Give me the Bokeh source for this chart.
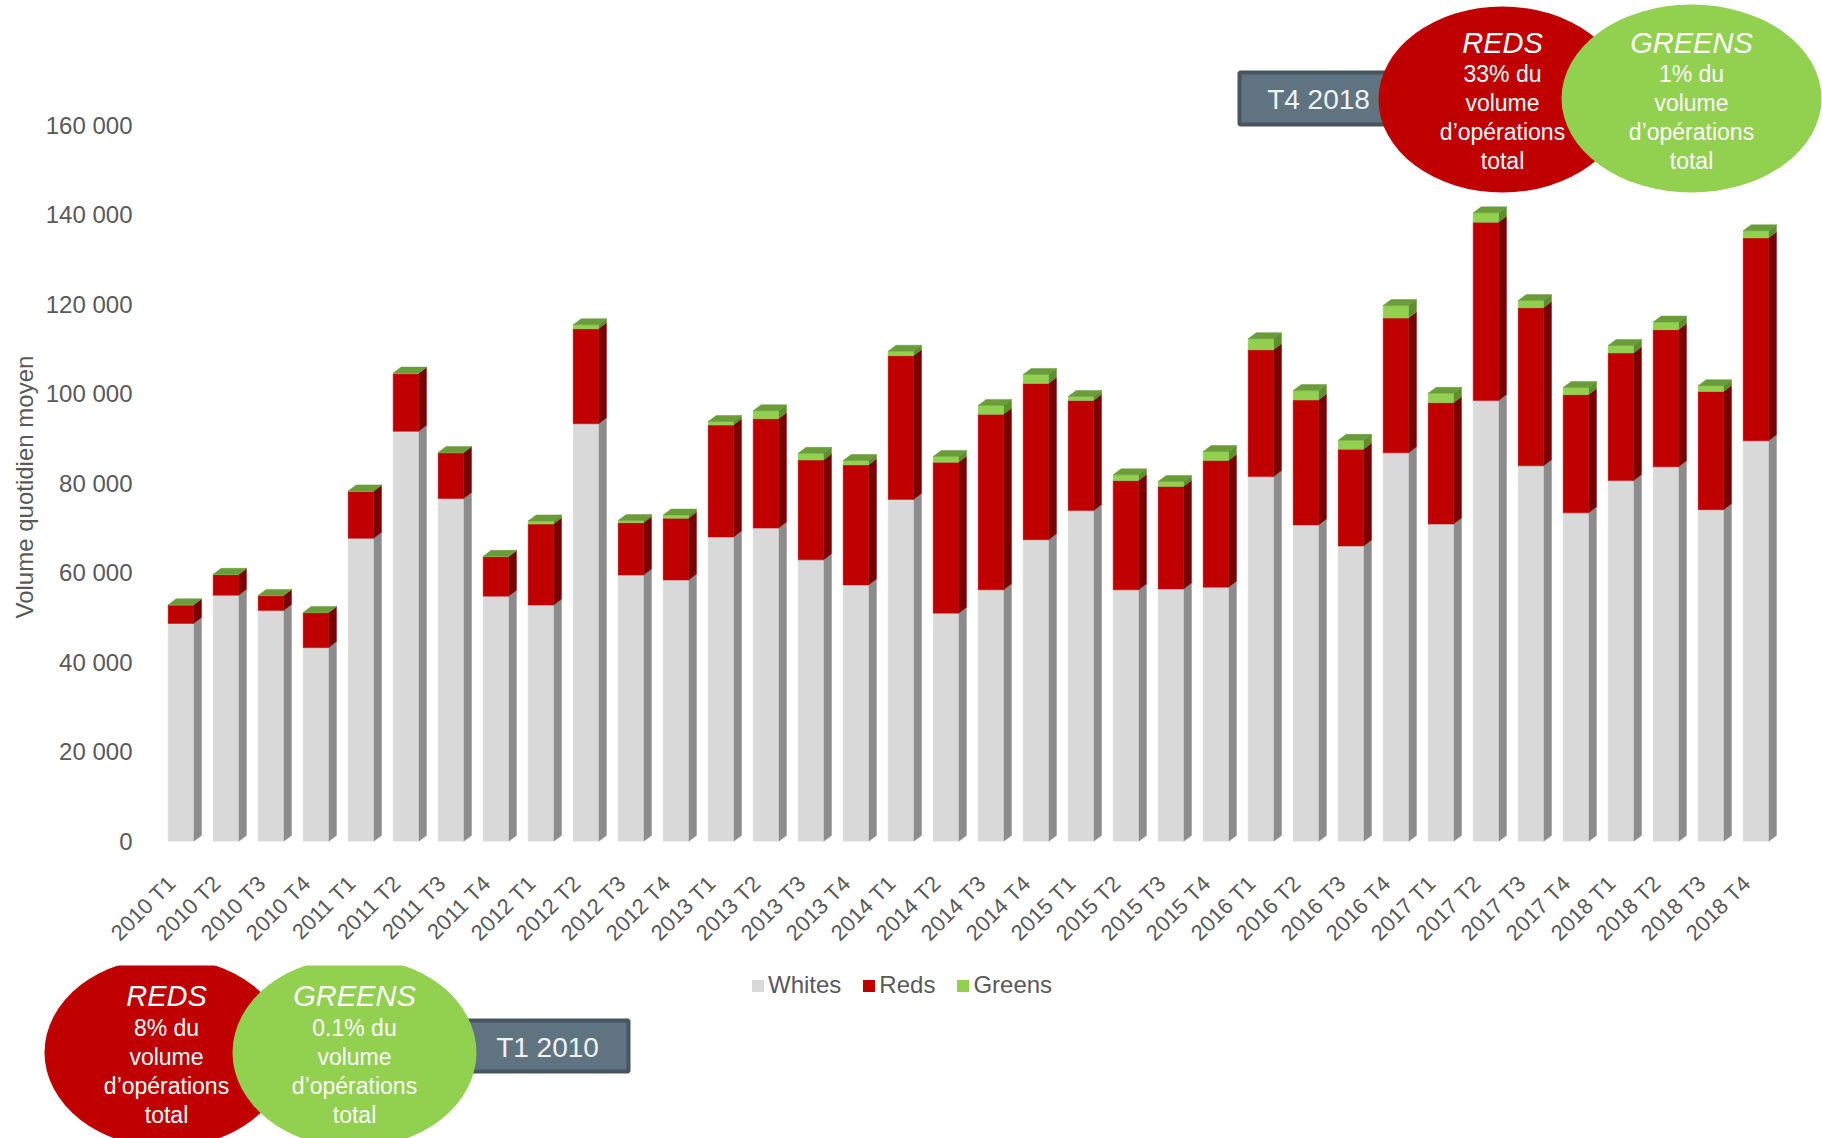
import numpy as np
from math import pi
from bokeh.plotting import figure
from bokeh.models import Range1d, FixedTicker, Title, Legend, LegendItem
from bokeh.layouts import column
from bokeh.embed import file_html
from bokeh.resources import INLINE
from bokeh.core.properties import value

# ---------------- data ----------------
categories = ["2010 T1", "2010 T2", "2010 T3", "2010 T4",
              "2011 T1", "2011 T2", "2011 T3", "2011 T4",
              "2012 T1", "2012 T2", "2012 T3", "2012 T4",
              "2013 T1", "2013 T2", "2013 T3", "2013 T4",
              "2014 T1", "2014 T2", "2014 T3", "2014 T4",
              "2015 T1", "2015 T2", "2015 T3", "2015 T4",
              "2016 T1", "2016 T2", "2016 T3", "2016 T4",
              "2017 T1", "2017 T2", "2017 T3", "2017 T4",
              "2018 T1", "2018 T2", "2018 T3", "2018 T4"]

whites = [48700, 55000, 51600, 43300, 67700, 91600, 76600, 54800,
          52800, 93300, 59500, 58400, 68000, 70000, 62900, 57300,
          76400, 51000, 56200, 67400, 73900, 56200, 56400, 56800,
          81500, 70700, 66000, 86800, 70900, 98500, 83900, 73400,
          80600, 83700, 74100, 89500]

reds = [4100, 4600, 3300, 7800, 10500, 12900, 10200, 8800,
        18100, 21200, 11700, 13800, 25000, 24400, 22300, 26800,
        32100, 33700, 39200, 34900, 24600, 24400, 22900, 28300,
        28300, 27900, 21600, 30100, 27100, 39800, 35300, 26400,
        28500, 30600, 26400, 45300]

greens = [60, 70, 60, 60, 100, 120, 100, 80,
          700, 900, 500, 700, 800, 1800, 1500, 1000,
          1000, 1300, 2000, 2000, 900, 1300, 1100, 2000,
          2500, 2100, 2000, 2800, 2100, 2100, 1600, 1600,
          1700, 1700, 1300, 1600]

series_names = ["Whites", "Reds", "Greens"]
y_ticks = [0, 20000, 40000, 60000, 80000, 100000, 120000, 140000, 160000]
y_tick_labels = ["0", "20 000", "40 000", "60 000", "80 000",
                 "100 000", "120 000", "140 000", "160 000"]
y_title = "Volume quotidien moyen"

top_period = "T4 2018"
top_reds_lines = ["REDS", "33% du", "volume", "d\u2019op\u00e9rations", "total"]
top_greens_lines = ["GREENS", "1% du", "volume", "d\u2019op\u00e9rations", "total"]
bottom_period = "T1 2010"
bottom_reds_lines = ["REDS", "8% du", "volume", "d\u2019op\u00e9rations", "total"]
bottom_greens_lines = ["GREENS", "0.1% du", "volume", "d\u2019op\u00e9rations", "total"]

# ---------------- style / layout ----------------
FONT = value("Liberation Sans")
TXT = "#595959"
WHITE_FRONT, WHITE_SIDE = "#d9d9d9", "#8c8c8c"
RED_FRONT, RED_SIDE = "#c00000", "#7a0000"
GREEN_FRONT, GREEN_SIDE, GREEN_TOP = "#92d050", "#5e8f2e", "#6b9c3a"
BOX_FILL, BOX_LINE = "#5f7480", "#46555f"

W = 1822
TOTAL_H = 1138
LEFT = 158
FRAME_H = 841                 # frame spans page y 0 .. 841
BOTTOM = 124
H1 = FRAME_H + BOTTOM
H2 = TOTAL_H - H1
PX_CAT = 45.0
PX_VAL = 0.0044775
XS = -0.4956
XE = XS + (W - LEFT) / PX_CAT
YE = FRAME_H / PX_VAL
LABEL_SHIFT = 0.2


def fx(page_x):
    return XS + (page_x - LEFT) / PX_CAT


def fy(page_y):
    return (FRAME_H - page_y) / PX_VAL


# ---------------- main figure ----------------
p = figure(width=W, height=H1, x_range=Range1d(XS, XE), y_range=Range1d(0, YE),
           output_backend="svg", toolbar_location=None,
           min_border_left=LEFT, min_border_right=0, min_border_top=0,
           min_border_bottom=BOTTOM)
p.frame_align = False
p.outline_line_color = None
p.grid.visible = False

x = np.arange(len(categories), dtype=float)
w = np.array(whites, dtype=float)
r = np.array(reds, dtype=float)
g = np.array(greens, dtype=float)
c1 = w
c2 = w + r
c3 = w + r + g

hw = 0.281
dx = 8 / PX_CAT
dy = 6 / PX_VAL

segments = [(np.zeros_like(w), c1, WHITE_FRONT, WHITE_SIDE),
            (c1, c2, RED_FRONT, RED_SIDE),
            (c2, c3, GREEN_FRONT, GREEN_SIDE)]

for bot, top, front, side in segments:
    xs_side = [[xi + hw, xi + hw + dx, xi + hw + dx, xi + hw] for xi in x]
    ys_side = [[b, b + dy, t + dy, t] for b, t in zip(bot, top)]
    p.patches(xs_side, ys_side, fill_color=side, line_color=side, line_width=0.5)
    p.vbar(x=x, bottom=bot, top=top, width=2 * hw, fill_color=front,
           line_color=front, line_width=0.5)

xs_top = [[xi - hw, xi - hw + dx, xi + hw + dx, xi + hw] for xi in x]
ys_top = [[t, t + dy, t + dy, t] for t in c3]
p.patches(xs_top, ys_top, fill_color=GREEN_TOP, line_color=GREEN_TOP, line_width=0.5)

# axes
x_ticks = [i - LABEL_SHIFT for i in range(len(categories))]
p.xaxis.ticker = FixedTicker(ticks=x_ticks)
p.xaxis.major_label_overrides = {t: c for t, c in zip(x_ticks, categories)}
p.xaxis.major_label_orientation = pi / 4
p.yaxis.ticker = FixedTicker(ticks=y_ticks)
p.yaxis.major_label_overrides = {v: s for v, s in zip(y_ticks, y_tick_labels)}
for ax in (p.xaxis, p.yaxis):
    ax.axis_line_color = None
    ax.major_tick_line_color = None
    ax.minor_tick_line_color = None
    ax.major_tick_out = 0
    ax.major_tick_in = 0
    ax.major_label_text_color = TXT
    ax.major_label_text_font = "Liberation Sans"
p.xaxis.major_label_text_font_size = "22px"
p.xaxis.major_label_standoff = 38
p.yaxis.major_label_text_font_size = "24px"
p.yaxis.major_label_standoff = 26

ytitle = Title(text=y_title, align="left", offset=223,
               text_font="Liberation Sans", text_font_size="24px",
               text_font_style="normal", text_color=TXT)
p.add_layout(ytitle, "left")

# top annotation
p.quad(left=[fx(1239)], right=[fx(1420)], top=[fy(72)], bottom=[fy(124)],
       fill_color=BOX_FILL, line_color=BOX_LINE, line_width=4)
p.text(x=[fx(1318)], y=[fy(99)], text=[top_period], text_font=FONT,
       text_font_size="28px", text_color="#f2f2f2", text_align="center",
       text_baseline="middle")
p.ellipse(x=[fx(1502)], y=[fy(99)], width=248, height=186,
          width_units="screen", height_units="screen",
          fill_color=RED_FRONT, line_color=None)
p.ellipse(x=[fx(1691)], y=[fy(98)], width=260, height=188,
          width_units="screen", height_units="screen",
          fill_color=GREEN_FRONT, line_color=None)
line_y = [42, 73, 102, 131, 160]
for cx, lines in ((1502, top_reds_lines), (1691, top_greens_lines)):
    p.text(x=[fx(cx)], y=[fy(line_y[0])], text=[lines[0]], text_font=FONT,
           text_font_size="29px", text_font_style="italic", text_color="white",
           text_align="center", text_baseline="middle")
    p.text(x=[fx(cx)] * 4, y=[fy(v) for v in line_y[1:]], text=lines[1:],
           text_font=FONT, text_font_size="23px", text_color="white",
           text_align="center", text_baseline="middle")

# ---------------- bottom figure ----------------
p2 = figure(width=W, height=H2, x_range=Range1d(0, W), y_range=Range1d(H2, 0),
            output_backend="svg", toolbar_location=None,
            x_axis_location=None, y_axis_location=None, min_border=0)
p2.frame_align = False
p2.outline_line_color = None
p2.grid.visible = False


def by(v):
    return v - H1


p2.quad(left=[440], right=[628], top=[by(1020)], bottom=[by(1071)],
        fill_color=BOX_FILL, line_color=BOX_LINE, line_width=4)
p2.text(x=[547], y=[by(1047)], text=[bottom_period], text_font=FONT,
        text_font_size="28px", text_color="#f2f2f2", text_align="center",
        text_baseline="middle")
p2.ellipse(x=[166], y=[by(1052)], width=244, height=190,
           fill_color=RED_FRONT, line_color=None)
p2.ellipse(x=[354], y=[by(1052)], width=244, height=190,
           fill_color=GREEN_FRONT, line_color=None)
bline_y = [995, 1027, 1056, 1085, 1114]
for cx, lines in ((166, bottom_reds_lines), (354, bottom_greens_lines)):
    p2.text(x=[cx], y=[by(bline_y[0])], text=[lines[0]], text_font=FONT,
            text_font_size="29px", text_font_style="italic", text_color="white",
            text_align="center", text_baseline="middle")
    p2.text(x=[cx] * 4, y=[by(v) for v in bline_y[1:]], text=lines[1:],
            text_font=FONT, text_font_size="23px", text_color="white",
            text_align="center", text_baseline="middle")

# legend swatches: zero-height bars placed outside the visible range
sw = []
for col in (WHITE_FRONT, RED_FRONT, GREEN_FRONT):
    sw.append(p2.vbar(x=[-500], bottom=[0], top=[0], width=1,
                      fill_color=col, line_color=None))
legend = Legend(items=[LegendItem(label=n, renderers=[rr]) for n, rr in zip(series_names, sw)],
                orientation="horizontal", location=(750, 139))
legend.border_line_color = None
legend.background_fill_alpha = 0
legend.padding = 0
legend.margin = 0
legend.spacing = 20
legend.glyph_width = 15
legend.glyph_height = 15
legend.label_standoff = 3
legend.label_text_font = "Liberation Sans"
legend.label_text_font_size = "24px"
legend.label_text_color = TXT
p2.add_layout(legend)

layout = column(p, p2, spacing=0)
open("out.html", "w").write(file_html(layout, INLINE))
